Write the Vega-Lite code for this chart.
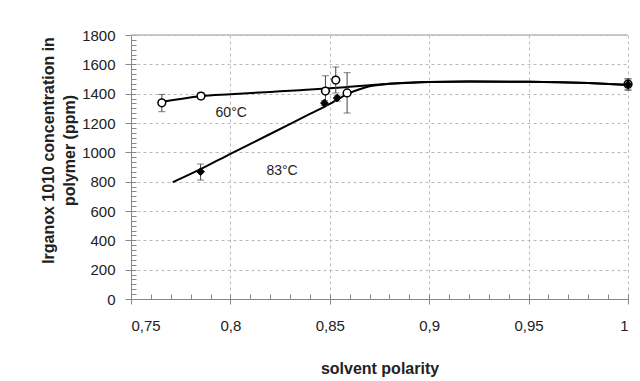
{
  "$schema": "https://vega.github.io/schema/vega-lite/v6.json",
  "width": 497,
  "height": 264,
  "autosize": {"type": "none"},
  "padding": {"left": 131, "top": 35, "right": 12, "bottom": 82},
  "background": "white",
  "config": {"font": "Liberation Sans", "view": {"stroke": null}},
  "datasets": {
    "curve": [
      {"series": "60", "polarity": 0.765, "ppm": 1343},
      {"series": "60", "polarity": 0.785, "ppm": 1383},
      {"series": "60", "polarity": 0.8, "ppm": 1396},
      {"series": "60", "polarity": 0.82, "ppm": 1412},
      {"series": "60", "polarity": 0.835, "ppm": 1424},
      {"series": "60", "polarity": 0.85, "ppm": 1437},
      {"series": "60", "polarity": 0.86, "ppm": 1447},
      {"series": "60", "polarity": 0.87, "ppm": 1457},
      {"series": "60", "polarity": 0.88, "ppm": 1467},
      {"series": "60", "polarity": 0.89, "ppm": 1475},
      {"series": "60", "polarity": 0.9, "ppm": 1480},
      {"series": "60", "polarity": 0.92, "ppm": 1483},
      {"series": "60", "polarity": 0.95, "ppm": 1481},
      {"series": "60", "polarity": 0.98, "ppm": 1472},
      {"series": "60", "polarity": 1.0, "ppm": 1460},
      {"series": "83", "polarity": 0.771, "ppm": 796},
      {"series": "83", "polarity": 0.785, "ppm": 885},
      {"series": "83", "polarity": 0.8, "ppm": 990},
      {"series": "83", "polarity": 0.82, "ppm": 1125},
      {"series": "83", "polarity": 0.84, "ppm": 1262},
      {"series": "83", "polarity": 0.85, "ppm": 1330},
      {"series": "83", "polarity": 0.855, "ppm": 1370},
      {"series": "83", "polarity": 0.86, "ppm": 1405},
      {"series": "83", "polarity": 0.865, "ppm": 1430},
      {"series": "83", "polarity": 0.87, "ppm": 1450},
      {"series": "83", "polarity": 0.88, "ppm": 1467},
      {"series": "83", "polarity": 0.89, "ppm": 1475},
      {"series": "83", "polarity": 0.9, "ppm": 1480},
      {"series": "83", "polarity": 0.92, "ppm": 1483},
      {"series": "83", "polarity": 0.95, "ppm": 1481},
      {"series": "83", "polarity": 0.98, "ppm": 1472},
      {"series": "83", "polarity": 1.0, "ppm": 1460}
    ],
    "pts": [
      {"series": "60", "polarity": 0.7655, "ppm": 1338, "lo": 1277, "hi": 1395},
      {"series": "60", "polarity": 0.7852, "ppm": 1384, "lo": 1365, "hi": 1405},
      {"series": "60", "polarity": 0.8478, "ppm": 1418, "lo": 1320, "hi": 1522},
      {"series": "60", "polarity": 0.853, "ppm": 1493, "lo": 1405, "hi": 1582},
      {"series": "60", "polarity": 0.8587, "ppm": 1405, "lo": 1268, "hi": 1543},
      {"series": "60", "polarity": 1.0, "ppm": 1465, "lo": 1430, "hi": 1500},
      {"series": "83", "polarity": 0.785, "ppm": 868, "lo": 811, "hi": 920},
      {"series": "83", "polarity": 0.8473, "ppm": 1336, "lo": 1320, "hi": 1352},
      {"series": "83", "polarity": 0.8537, "ppm": 1370, "lo": 1350, "hi": 1390},
      {"series": "83", "polarity": 1.0, "ppm": 1462, "lo": 1422, "hi": 1502}
    ],
    "labels": [
      {"polarity": 0.8004, "ppm": 1268, "text": "60°C"},
      {"polarity": 0.826, "ppm": 875, "text": "83°C"}
    ]
  },
  "layer": [
    {
      "data": {"name": "labels"},
      "mark": {"type": "rule", "color": "#bbbbbb", "strokeWidth": 1},
      "encoding": {
        "y": {"datum": 1800, "type": "quantitative",
          "scale": {"domain": [0, 1800], "nice": false, "zero": true},
          "axis": {"orient": "left", "offset": -5, "values": [0,33.33,66.67,100,133.33,166.67,200,233.33,266.67,300,333.33,366.67,400,433.33,466.67,500,533.33,566.67,600,633.33,666.67,700,733.33,766.67,800,833.33,866.67,900,933.33,966.67,1000,1033.33,1066.67,1100,1133.33,1166.67,1200,1233.33,1266.67,1300,1333.33,1366.67,1400,1433.33,1466.67,1500,1533.33,1566.67,1600,1633.33,1666.67,1700,1733.33,1766.67,1800],
            "labels": false, "grid": false, "domain": false, "title": null, "tickSize": 5, "tickColor": "#888888", "tickWidth": 1}}
      }
    },
    {
      "data": {"name": "labels"},
      "mark": {"type": "rule", "color": "#bbbbbb", "strokeWidth": 1, "opacity": 0},
      "encoding": {
        "x": {"datum": 1.0, "type": "quantitative",
          "scale": {"domain": [0.75, 1.0], "nice": false, "zero": false},
          "axis": {"orient": "bottom", "offset": -5, "values": [0.75,0.76,0.77,0.78,0.79,0.8,0.81,0.82,0.83,0.84,0.85,0.86,0.87,0.88,0.89,0.9,0.91,0.92,0.93,0.94,0.95,0.96,0.97,0.98,0.99,1.0],
            "labels": false, "grid": false, "domain": false, "title": null, "tickSize": 5, "tickColor": "#888888", "tickWidth": 1}}
      }
    },
    {
      "data": {"name": "curve"},
      "mark": {"type": "line", "color": "black", "strokeWidth": 2, "interpolate": "monotone"},
      "encoding": {
        "detail": {"field": "series"},
        "x": {"field": "polarity", "type": "quantitative",
          "scale": {"domain": [0.75, 1.0], "nice": false, "zero": false},
          "axis": {"orient": "bottom", "values": [0.75, 0.8, 0.85, 0.9, 0.95, 1.0],
            "labelExpr": "replace(format(datum.value, '.2~f'), '.', ',')",
            "labelFont": "Liberation Sans", "labelFontSize": 15, "labelColor": "#222222", "labelPadding": 14,
            "tickSize": 5, "tickColor": "#888888", "domainColor": "#888888",
            "grid": true, "gridColor": "#bbbbbb", "gridDash": [3, 3],
            "title": "solvent polarity", "titleFont": "Liberation Sans", "titleFontSize": 16, "titleFontWeight": "bold",
            "titleColor": "#222222", "titleBaseline": "top", "titleY": 61}},
        "y": {"field": "ppm", "type": "quantitative",
          "scale": {"domain": [0, 1800], "nice": false},
          "axis": {"orient": "left", "values": [0, 200, 400, 600, 800, 1000, 1200, 1400, 1600, 1800], "format": "d",
            "labelFont": "Liberation Sans", "labelFontSize": 15, "labelColor": "#222222", "labelPadding": 10,
            "tickSize": 6, "tickColor": "#888888", "domainColor": "#888888",
            "grid": true, "gridColor": "#bbbbbb", "gridDash": [3, 3],
            "title": ["Irganox 1010 concentration in", "polymer (ppm)"],
            "titleFont": "Liberation Sans", "titleFontSize": 16, "titleFontWeight": "bold", "titleColor": "#222222",
            "titleLineHeight": 21, "titleAngle": -90, "titleBaseline": "bottom", "titleAlign": "center",
            "titleX": -75, "titleY": 115}}
      }
    },
    {
      "data": {"name": "pts"},
      "mark": {"type": "rule", "color": "#444444", "strokeWidth": 1},
      "encoding": {
        "x": {"field": "polarity", "type": "quantitative", "axis": null},
        "y": {"field": "lo", "type": "quantitative", "axis": null},
        "y2": {"field": "hi"}
      }
    },
    {
      "data": {"name": "pts"},
      "mark": {"type": "tick", "orient": "horizontal", "color": "#444444", "size": 7, "thickness": 1},
      "encoding": {
        "x": {"field": "polarity", "type": "quantitative", "axis": null},
        "y": {"field": "lo", "type": "quantitative", "axis": null}
      }
    },
    {
      "data": {"name": "pts"},
      "mark": {"type": "tick", "orient": "horizontal", "color": "#444444", "size": 7, "thickness": 1},
      "encoding": {
        "x": {"field": "polarity", "type": "quantitative", "axis": null},
        "y": {"field": "hi", "type": "quantitative", "axis": null}
      }
    },
    {
      "data": {"name": "pts"},
      "transform": [{"filter": "datum.series == '60'"}],
      "mark": {"type": "point", "shape": "circle", "filled": true, "fill": "white", "stroke": "black", "strokeWidth": 1.5, "size": 60, "opacity": 1},
      "encoding": {
        "x": {"field": "polarity", "type": "quantitative", "axis": null},
        "y": {"field": "ppm", "type": "quantitative", "axis": null}
      }
    },
    {
      "data": {"name": "pts"},
      "transform": [{"filter": "datum.series == '83'"}],
      "mark": {"type": "point", "shape": "diamond", "filled": true, "fill": "black", "stroke": "black", "strokeWidth": 1, "size": 60, "opacity": 1},
      "encoding": {
        "x": {"field": "polarity", "type": "quantitative", "axis": null},
        "y": {"field": "ppm", "type": "quantitative", "axis": null}
      }
    },
    {
      "data": {"name": "labels"},
      "mark": {"type": "text", "font": "Liberation Sans", "fontSize": 14, "color": "#222222", "align": "center", "baseline": "middle"},
      "encoding": {
        "x": {"field": "polarity", "type": "quantitative", "axis": null},
        "y": {"field": "ppm", "type": "quantitative", "axis": null},
        "text": {"field": "text"}
      }
    }
  ],
  "resolve": {"axis": {"x": "independent", "y": "independent"}}
}
